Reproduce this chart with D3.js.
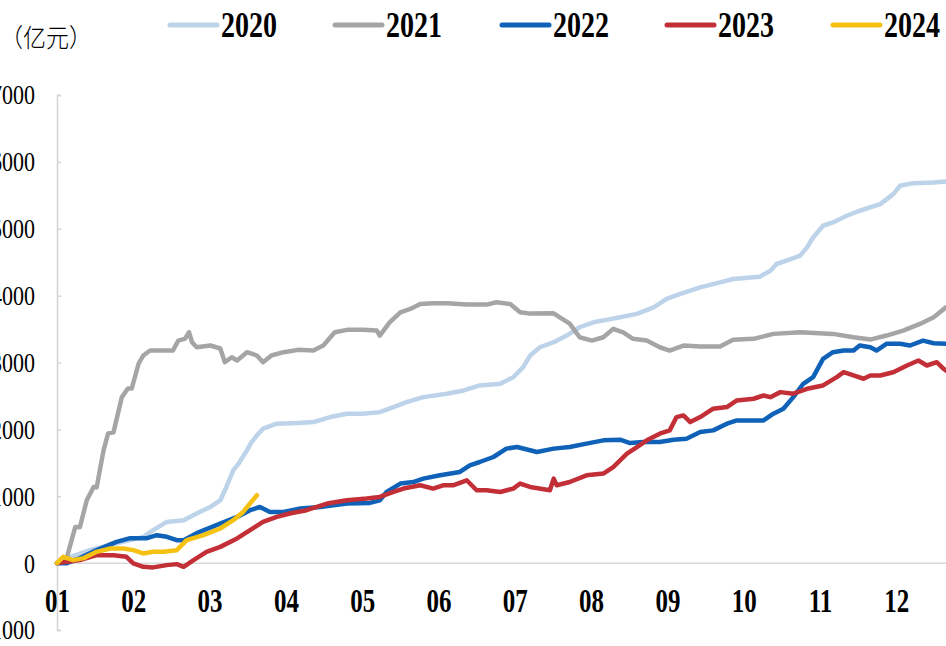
<!DOCTYPE html>
<html><head><meta charset="utf-8">
<script src="https://cdn.jsdelivr.net/npm/d3@7"></script>
<style>html,body{margin:0;padding:0;background:#fff;overflow:hidden}svg{display:block}</style>
</head><body>
<svg id="c" width="946" height="646"></svg>
<script>
// x = months elapsed since Jan 1 (0..12), y = cumulative value (亿元)
const monthLabels = ["01","02","03","04","05","06","07","08","09","10","11","12"];
const yTicks = [-1000,0,1000,2000,3000,4000,5000,6000,7000];
const seriesNames = ["2020","2021","2022","2023","2024"];
const seriesColors = ["#bcd3ea","#a5a5a5","#0f62b8","#c32f36","#f5c212"];

const s2020 = [[0,0],[0.17,90],[0.43,194],[0.69,269],[0.96,343],[1.13,393],[1.26,493],[1.44,616],[1.66,642],[1.83,742],[2.01,840],[2.14,940],[2.22,1139],[2.31,1388],[2.38,1488],[2.49,1687],[2.55,1810],[2.64,1936],[2.70,2010],[2.88,2085],[3.16,2094],[3.36,2109],[3.58,2184],[3.80,2234],[4.01,2234],[4.23,2258],[4.41,2333],[4.58,2407],[4.80,2482],[5.11,2533],[5.33,2582],[5.54,2657],[5.81,2682],[5.98,2781],[6.11,2930],[6.20,3104],[6.33,3228],[6.51,3303],[6.68,3403],[6.85,3527],[7.03,3601],[7.20,3637],[7.38,3676],[7.60,3727],[7.82,3825],[7.99,3951],[8.17,4025],[8.43,4124],[8.69,4198],[8.86,4249],[9.21,4283],[9.35,4373],[9.43,4473],[9.56,4522],[9.74,4597],[9.83,4721],[9.91,4870],[10.04,5045],[10.17,5094],[10.35,5194],[10.52,5269],[10.79,5368],[10.96,5518],[11.05,5642],[11.22,5682],[11.49,5691],[11.65,5706]];

const s2021 = [[0,0],[0.13,90],[0.24,542],[0.30,537],[0.39,940],[0.48,1139],[0.52,1134],[0.61,1687],[0.67,1940],[0.74,1955],[0.85,2482],[0.93,2612],[0.98,2612],[1.07,2985],[1.13,3104],[1.22,3179],[1.52,3179],[1.59,3328],[1.68,3358],[1.73,3452],[1.77,3303],[1.83,3228],[2.01,3254],[2.14,3209],[2.20,3004],[2.29,3079],[2.36,3030],[2.49,3154],[2.62,3104],[2.70,3004],[2.81,3104],[2.97,3154],[3.16,3189],[3.36,3179],[3.49,3254],[3.64,3452],[3.80,3488],[4.01,3488],[4.19,3478],[4.23,3403],[4.36,3601],[4.50,3751],[4.63,3801],[4.76,3876],[4.93,3885],[5.11,3885],[5.37,3866],[5.63,3866],[5.76,3900],[5.94,3876],[6.07,3751],[6.20,3731],[6.51,3736],[6.59,3676],[6.72,3582],[6.85,3378],[7.01,3328],[7.16,3378],[7.29,3503],[7.42,3452],[7.55,3354],[7.73,3328],[7.90,3228],[8.03,3179],[8.21,3254],[8.43,3239],[8.69,3239],[8.86,3339],[9.13,3354],[9.39,3428],[9.74,3452],[10.17,3428],[10.44,3378],[10.66,3343],[10.87,3403],[11.09,3478],[11.31,3577],[11.49,3676],[11.65,3825]];

const s2022 = [[0,0],[0.13,0],[0.30,75],[0.52,194],[0.78,318],[0.96,373],[1.18,373],[1.31,418],[1.44,393],[1.57,343],[1.66,343],[1.83,448],[2.09,567],[2.36,691],[2.53,791],[2.66,840],[2.79,766],[2.97,766],[3.19,816],[3.45,840],[3.80,891],[4.10,900],[4.23,940],[4.32,1064],[4.50,1190],[4.67,1213],[4.80,1264],[5.02,1313],[5.28,1363],[5.41,1463],[5.54,1512],[5.72,1587],[5.89,1712],[6.03,1736],[6.29,1661],[6.51,1712],[6.72,1736],[6.94,1787],[7.16,1836],[7.38,1846],[7.51,1796],[7.68,1810],[7.90,1810],[8.08,1846],[8.25,1861],[8.43,1960],[8.60,1985],[8.78,2085],[8.91,2134],[9.26,2134],[9.39,2234],[9.52,2309],[9.65,2482],[9.78,2682],[9.91,2781],[10.04,3055],[10.17,3154],[10.31,3179],[10.44,3179],[10.52,3254],[10.66,3228],[10.74,3179],[10.87,3279],[11.05,3279],[11.18,3254],[11.35,3328],[11.49,3288],[11.65,3279]];

const s2023 = [[0,0],[0.13,19],[0.30,45],[0.52,119],[0.74,119],[0.91,94],[1.00,-4],[1.13,-55],[1.26,-64],[1.44,-30],[1.57,-15],[1.66,-55],[1.79,45],[1.96,169],[2.14,243],[2.36,369],[2.53,493],[2.70,616],[2.88,691],[3.05,742],[3.27,791],[3.54,891],[3.80,940],[4.06,966],[4.23,990],[4.41,1064],[4.54,1115],[4.76,1164],[4.93,1115],[5.06,1164],[5.19,1164],[5.37,1239],[5.50,1090],[5.63,1090],[5.81,1064],[5.98,1115],[6.07,1190],[6.20,1139],[6.46,1090],[6.51,1264],[6.55,1164],[6.72,1213],[6.94,1313],[7.16,1339],[7.29,1437],[7.47,1637],[7.60,1736],[7.73,1836],[7.90,1936],[8.03,1985],[8.12,2184],[8.21,2209],[8.30,2109],[8.43,2184],[8.60,2309],[8.78,2333],[8.91,2433],[9.13,2458],[9.26,2507],[9.35,2482],[9.48,2557],[9.65,2533],[9.83,2607],[10.04,2657],[10.22,2781],[10.31,2855],[10.44,2806],[10.57,2757],[10.66,2806],[10.79,2806],[10.96,2855],[11.14,2955],[11.29,3030],[11.40,2955],[11.53,3004],[11.62,2906],[11.65,2880]];

const s2024 = [[0,0],[0.08,94],[0.21,45],[0.35,75],[0.52,169],[0.70,219],[0.87,219],[1.00,194],[1.13,145],[1.26,169],[1.39,169],[1.57,194],[1.70,343],[1.92,418],[2.14,518],[2.31,642],[2.44,766],[2.53,891],[2.62,1015]];

const seriesData = [s2020, s2021, s2022, s2023, s2024];

const svg = d3.select("#c");
const x = d3.scaleLinear().domain([0,12]).range([57, 972.6]);
const y = d3.scaleLinear().domain([-1000,7000]).range([630, 95]);
const serif = "'Liberation Serif','Times New Roman',serif";

// y axis
const yAxis = d3.axisLeft(y).tickValues(yTicks).tickSize(-4).tickPadding(0).tickFormat(d3.format("d"));
const ga = svg.append("g").attr("transform","translate(57,0)").call(yAxis);
ga.select(".domain").attr("stroke","#d4d4d4").attr("stroke-width",1.5);
ga.selectAll(".tick line").attr("stroke","#d4d4d4").attr("stroke-width",1.5);
ga.selectAll(".tick text").remove();
ga.selectAll(".tick").append("text")
  .attr("text-anchor","end").attr("fill","#000")
  .attr("font-family",serif).attr("font-size",22)
  .attr("transform","translate(-22,0) scale(1,1.2)")
  .attr("dy","0.34em")
  .text(d=>d);

// zero line
svg.append("line").attr("x1",57).attr("x2",946).attr("y1",y(0)).attr("y2",y(0))
  .attr("stroke","#d9d9d9").attr("stroke-width",1.5);

// x labels
const xAxis = d3.axisBottom(x).tickValues(d3.range(12)).tickSize(0).tickFormat(i=>monthLabels[i]);
const gx = svg.append("g").attr("transform","translate(0,"+y(0)+")").call(xAxis);
gx.select(".domain").remove();
gx.selectAll(".tick text").remove();
gx.selectAll(".tick").append("text")
  .attr("text-anchor","middle").attr("fill","#000")
  .attr("font-family",serif).attr("font-weight","bold").attr("font-size",25)
  .attr("transform","translate(0,37) scale(1,1.35)")
  .attr("dy","0.34em")
  .text(i=>monthLabels[i]);

// lines
const line = d3.line().x(d=>x(d[0])).y(d=>y(d[1]));
svg.append("g").selectAll("path").data(seriesData).join("path")
  .attr("d",line).attr("fill","none")
  .attr("stroke",(d,i)=>seriesColors[i]).attr("stroke-width",4.5)
  .attr("stroke-linejoin","round").attr("stroke-linecap","round");

// unit label
svg.append("text").attr("font-family","'Noto Sans CJK SC',sans-serif").attr("font-size",23)
  .attr("font-weight",300)
  .attr("transform","translate(0,38) scale(1,1.1)").attr("dy","0.35em").text("（亿元）");

// legend
const legX = [170,335,502,667,833];
const lg = svg.append("g").selectAll("g").data(seriesNames).join("g")
  .attr("transform",(d,i)=>"translate("+legX[i]+",25)");
lg.append("line").attr("x1",0).attr("x2",47).attr("y1",0).attr("y2",0)
  .attr("stroke",(d,i)=>seriesColors[i]).attr("stroke-width",5).attr("stroke-linecap","round");
lg.append("text").attr("font-family",serif).attr("font-weight","bold").attr("font-size",28)
  .attr("transform","translate(51,0) scale(1,1.3)").attr("dy","0.34em").text(d=>d);
</script>
</body></html>
